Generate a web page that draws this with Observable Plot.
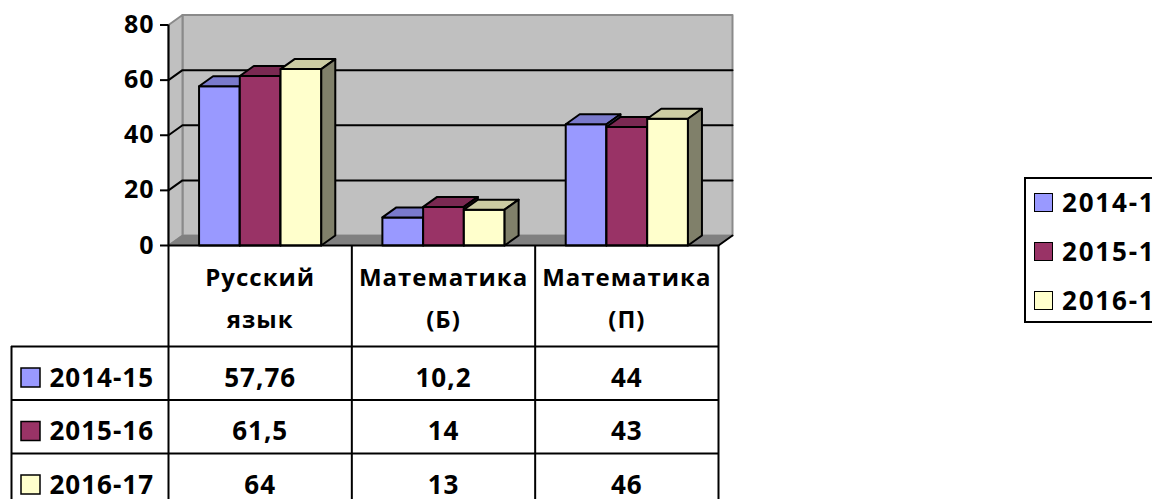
<!DOCTYPE html>
<html>
<head>
<meta charset="utf-8">
<script src="https://cdn.jsdelivr.net/npm/d3@7"></script>
<script src="https://cdn.jsdelivr.net/npm/@observablehq/plot@0.6"></script>
<style>
  html, body { margin: 0; padding: 0; background: #fff; overflow: hidden; }
  #wrap { position: relative; width: 1152px; height: 499px; overflow: hidden; font-family: "Open Sans", sans-serif; }
  #wrap svg text { letter-spacing: 1px; }
  #wrap svg [aria-label="header"] text { letter-spacing: -0.4px; }
  #legend { position: absolute; left: 1024px; top: 177px; width: 170px; height: 146px; border: 2px solid #000; box-sizing: border-box; background: #fff; }
  .item { position: absolute; left: 8px; height: 20px; display: flex; align-items: center; gap: 9px; font-size: 26px; font-weight: bold; line-height: 20px; letter-spacing: 1.8px; white-space: nowrap; color: #000; }
  .sw { width: 17px; height: 17px; border: 1.5px solid #000; flex: none; }
</style>
</head>
<body>
<div id="wrap"></div>
<script>
// ---- data ----
const categories = ["Русский\nязык", "Математика\n(Б)", "Математика\n(П)"];
const series = ["2014-15", "2015-16", "2016-17"];
const values2014 = [57.76, 10.2, 44];
const values2015 = [61.5, 14, 43];
const values2016 = [64, 13, 46];
const yTicks = [0, 20, 40, 60, 80];
const frontColors = ["#9999FF", "#993366", "#FFFFCC"];
const topColors = ["#7A7ACC", "#7A2952", "#CCCCA3"];
const sideColors = ["#4D4D80", "#4D1A33", "#80806A"];

const seriesValues = [values2014, values2015, values2016];

// ---- layout ----
const W = 1152, H = 499;
const ML = 168, MR = 434, MT = 24.5, MB = 254;
const Y_MAX = 80;
const DEPTH = [14, 10];             // 3D depth offset in px
const GAP = 1.5;                    // Excel gap width (150%)
const TABLE_LEFT = 157;             // px left of the axis
const HEADER_H = 101, ROW_H = 53.5; // px

const XU = (W - ML - MR) / categories.length;
const YU = (H - MT - MB) / Y_MAX;
const DX = DEPTH[0] / XU, DY = DEPTH[1] / YU;
const below = px => -px / YU;
const leftOf = px => -px / XU;
const nCat = categories.length, nSer = series.length;
const BW = 1 / (nSer + GAP);
const OFF = (GAP / 2) * BW;

// walls
const wallPoly = (id, pts, fill) => pts.map(([x, y]) => ({id, x, y, fill}));
const backWall = wallPoly("back", [[DX, DY], [nCat + DX, DY], [nCat + DX, Y_MAX + DY], [DX, Y_MAX + DY]], "#C0C0C0");
const leftWall = wallPoly("left", [[0, 0], [DX, DY], [DX, Y_MAX + DY], [0, Y_MAX]], "#C0C0C0");
const floor = wallPoly("floor", [[0, 0], [nCat, 0], [nCat + DX, DY], [DX, DY]], "#808080");

const gridVals = yTicks.filter(v => v > 0 && v < Y_MAX);
const grid = gridVals.flatMap(v => [
  {g: v, x: 0, y: v}, {g: v, x: DX, y: v + DY}, {g: v, x: nCat + DX, y: v + DY}
]);

// bars as polygons, painter's order
const polys = [];
categories.forEach((c, i) => {
  seriesValues.forEach((vals, j) => {
    const v = vals[i];
    const x0 = i + OFF + j * BW, x1 = x0 + BW;
    const add = (id, pts, fill) => pts.forEach(([x, y]) => polys.push({id, x, y, fill}));
    add(`f${i}${j}`, [[x0, 0], [x1, 0], [x1, v], [x0, v]], frontColors[j]);
    add(`t${i}${j}`, [[x0, v], [x1, v], [x1 + DX, v + DY], [x0 + DX, v + DY]], topColors[j]);
    add(`s${i}${j}`, [[x1, 0], [x1 + DX, DY], [x1 + DX, v + DY], [x1, v]], sideColors[j]);
  });
});

const fmt = v => String(v).replace(".", ",");
const cats = categories.map((c, i) => ({c, i}));
const rowTops = series.map((s, j) => HEADER_H + j * ROW_H);

const marks = [
  // walls & floor
  Plot.line(backWall, {x: "x", y: "y", z: "id", fill: "fill", stroke: "#8A8A8A", strokeWidth: 2, curve: "linear-closed"}),
  Plot.line(leftWall, {x: "x", y: "y", z: "id", fill: "fill", stroke: "#8A8A8A", strokeWidth: 2, curve: "linear-closed"}),
  Plot.line(floor, {x: "x", y: "y", z: "id", fill: "fill", stroke: "#808080", strokeWidth: 1, curve: "linear-closed"}),
  Plot.line(grid, {x: "x", y: "y", z: "g", stroke: "#000", strokeWidth: 2}),
  // bars
  Plot.line(polys, {x: "x", y: "y", z: "id", fill: "fill", stroke: "#000", strokeWidth: 2, strokeLinejoin: "round", curve: "linear-closed"}),
  // front floor edge and right diagonal
  Plot.ruleY([0], {x1: 0, x2: nCat, stroke: "#000", strokeWidth: 2}),
  Plot.line([{x: nCat, y: 0}, {x: nCat + DX, y: DY}], {x: "x", y: "y", stroke: "#000", strokeWidth: 2}),
  // y axis
  Plot.ruleX([0], {y1: Y_MAX, y2: below(H), stroke: "#000", strokeWidth: 2}),
  Plot.axisY(yTicks, {label: null, tickSize: 8, tickPadding: 6, fontSize: 25, fontWeight: "bold", stroke: "#000", strokeWidth: 2, fill: "#000"}),
  // table lines
  Plot.ruleX(d3.range(1, nCat + 1), {y1: 0, y2: below(H), stroke: "#000", strokeWidth: 2}),
  Plot.ruleX([leftOf(TABLE_LEFT)], {y1: below(HEADER_H), y2: below(H), stroke: "#000", strokeWidth: 2}),
  Plot.ruleY(rowTops.map(below), {x1: leftOf(TABLE_LEFT), x2: nCat, stroke: "#000", strokeWidth: 2}),
  // header text
  Plot.text(cats, {x: d => d.i + 0.5, y: 0, dy: 82, text: "c", lineAnchor: "bottom", lineHeight: 1.75, fontSize: 24, fontWeight: "bold", fill: "#000", ariaLabel: "header"}),
];
// value rows
seriesValues.forEach((vals, j) => {
  const top = rowTops[j];
  marks.push(
    Plot.text(cats, {x: d => d.i + 0.5, y: 0, dy: top + 40, text: d => fmt(vals[d.i]), lineAnchor: "bottom", fontSize: 26, fontWeight: "bold", fill: "#000"}),
    Plot.dot([series[j]], {x: leftOf(TABLE_LEFT), y: 0, dx: 19, dy: top + 31, symbol: "square", r: 19 / Math.sqrt(Math.PI), fill: frontColors[j], stroke: "#000", strokeWidth: 1.5}),
    Plot.text([series[j]], {x: leftOf(TABLE_LEFT), y: 0, dx: 38, dy: top + 40, text: d => d, textAnchor: "start", lineAnchor: "bottom", fontSize: 26, fontWeight: "bold", fill: "#000"})
  );
});

const chart = Plot.plot({
  width: W, height: H,
  marginLeft: ML, marginRight: MR, marginTop: MT, marginBottom: MB,
  x: {type: "linear", domain: [0, nCat], axis: null},
  y: {domain: [0, Y_MAX], axis: null},
  color: {type: "identity"},
  style: {fontFamily: "'Open Sans', sans-serif", background: "#fff", color: "#000", overflow: "hidden"},
  marks
});
const wrap = document.getElementById("wrap");
wrap.appendChild(chart);

// legend
const legend = document.createElement("div");
legend.id = "legend";
const itemTops = [13, 62, 111];
series.forEach((s, j) => {
  const it = document.createElement("div");
  it.className = "item";
  it.style.top = itemTops[j] + "px";
  const sw = document.createElement("span");
  sw.className = "sw";
  sw.style.background = frontColors[j];
  const tx = document.createElement("span");
  tx.textContent = s;
  it.appendChild(sw); it.appendChild(tx);
  legend.appendChild(it);
});
wrap.appendChild(legend);
</script>
</body>
</html>
